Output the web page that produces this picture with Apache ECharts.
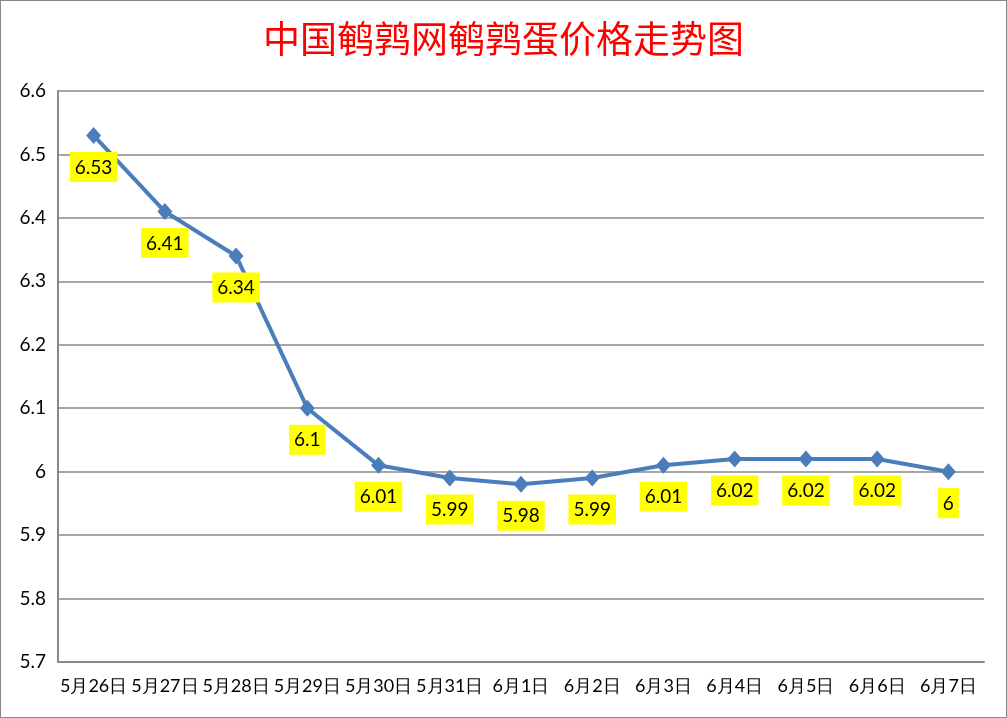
<!DOCTYPE html>
<html><head><meta charset="utf-8">
<script src="https://cdn.jsdelivr.net/npm/echarts@6/dist/echarts.min.js"></script>
<style>
html,body{margin:0;padding:0;background:#fff;}
#c{position:absolute;left:0;top:0;width:1005px;height:716px;border:1px solid #888;}
</style></head>
<body><div id="c"></div>
<script>
const categories = ['5月26日','5月27日','5月28日','5月29日','5月30日','5月31日','6月1日','6月2日','6月3日','6月4日','6月5日','6月6日','6月7日'];
const prices = [6.53, 6.41, 6.34, 6.1, 6.01, 5.99, 5.98, 5.99, 6.01, 6.02, 6.02, 6.02, 6];
const titleText = '中国鹌鹑网鹌鹑蛋价格走势图';

const chart = echarts.init(document.getElementById('c'));
chart.setOption({
  animation: false,
  title: {
    text: titleText, left: 'center', top: 14,
    textStyle: {color: '#FF0000', fontSize: 37, fontWeight: 'normal', fontFamily: 'Noto Sans CJK SC'}
  },
  grid: {left: 57, right: 22, top: 90, bottom: 55, containLabel: false},
  xAxis: {
    type: 'category', data: categories, boundaryGap: true,
    axisLine: {lineStyle: {color: '#888', width: 2}},
    axisTick: {show: false},
    axisLabel: {color: '#000', fontSize: 18, fontFamily: 'Lato', margin: 15, interval: 0}
  },
  yAxis: {
    type: 'value', min: 5.7, max: 6.6, interval: 0.1,
    axisLine: {show: true, lineStyle: {color: '#888', width: 2}},
    axisTick: {show: false},
    axisLabel: {color: '#000', fontSize: 19, fontFamily: 'Lato', margin: 12,
      formatter: v => String(Math.round(v*10)/10)},
    splitLine: {lineStyle: {color: '#888', width: 1.5}}
  },
  series: [{
    type: 'line', data: prices,
    symbol: 'diamond', symbolSize: [15, 17],
    lineStyle: {color: '#4A7EBB', width: 4},
    itemStyle: {color: '#4A7EBB'},
    label: {
      show: true, position: 'bottom', distance: 8,
      backgroundColor: '#FFFF00', color: '#000', fontSize: 19, fontFamily: 'Lato',
      padding: [6, 5, 5, 5],
      formatter: p => String(p.value)
    }
  }]
});
</script></body></html>
